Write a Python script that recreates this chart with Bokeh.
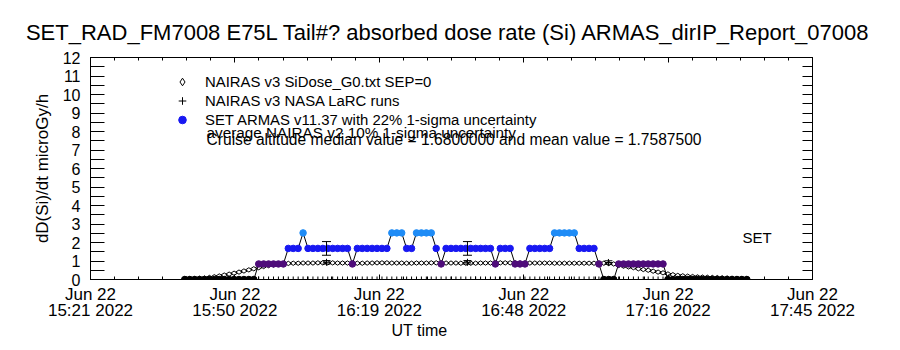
from bokeh.plotting import figure
from bokeh.models import (FixedTicker, LinearAxis, Range1d, Label, Legend,
                          LegendItem, ColumnDataSource, Title, CustomLabelingPolicy)
from bokeh.embed import file_html
from bokeh.resources import INLINE

# ---------------- data ----------------
tick_times = ["15:21:12", "15:50:00", "16:18:48", "16:47:36", "17:16:24", "17:45:12"]
tick_labels = ["Jun 22\n15:21 2022", "Jun 22\n15:50 2022", "Jun 22\n16:19 2022",
               "Jun 22\n16:48 2022", "Jun 22\n17:16 2022", "Jun 22\n17:45 2022"]
y_ticks = list(range(0, 13))

# SET ARMAS v11.37 dose rate (1 sample per ~59 s)
armas_start = "15:40:00"
armas_step_s = 59
armas_values = [
    0, 0, 0, 0, 0, 0, 0, 0, 0, 0, 0, 0, 0, 0, 0,
    0.84, 0.84, 0.84, 0.84, 0.84, 0.84,
    1.68, 1.68, 1.68,
    2.52,
    1.68, 1.68, 1.68, 1.68, 1.68, 1.68, 1.68, 1.68, 1.68,
    0.84,
    1.68, 1.68, 1.68, 1.68, 1.68, 1.68, 1.68,
    2.52, 2.52, 2.52,
    1.68, 1.68,
    2.52, 2.52, 2.52, 2.52,
    1.68,
    0.84,
    1.68, 1.68, 1.68, 1.68, 1.68, 1.68, 1.68, 1.68, 1.68, 1.68,
    0.84,
    1.68, 1.68, 1.68,
    0.84, 0.84, 0.84,
    1.68, 1.68, 1.68, 1.68, 1.68,
    2.52, 2.52, 2.52, 2.52, 2.52,
    1.68, 1.68, 1.68, 1.68,
    0.84,
    0, 0, 0,
    0.84, 0.84, 0.84, 0.84, 0.84, 0.84, 0.84, 0.84, 0.84, 0.84,
    0, 0, 0, 0, 0, 0, 0, 0, 0, 0, 0, 0, 0, 0, 0, 0, 0,
]

# NAIRAS v3 SiDose_G0 (same time stamps)
nairas_values = [
    0.02, 0.03, 0.04, 0.06, 0.08, 0.11, 0.15, 0.19, 0.24, 0.29, 0.34, 0.40, 0.46,
    0.52, 0.58, 0.64, 0.70, 0.75, 0.79, 0.83, 0.86,
    0.87, 0.88, 0.88, 0.89, 0.89, 0.89, 0.90, 0.90, 0.90, 0.90, 0.89, 0.89, 0.89,
    0.88, 0.88, 0.88, 0.89, 0.89, 0.90, 0.90, 0.90, 0.89, 0.89, 0.89, 0.88, 0.88,
    0.89, 0.89, 0.89, 0.90, 0.90, 0.90, 0.89, 0.89, 0.89, 0.88, 0.88, 0.88, 0.88,
    0.89, 0.89, 0.89, 0.89, 0.90, 0.90, 0.90, 0.90, 0.89, 0.89, 0.89, 0.89, 0.89,
    0.89, 0.89, 0.88, 0.88, 0.88, 0.88, 0.88, 0.88, 0.88, 0.88, 0.88, 0.88,
    0.88, 0.86, 0.84, 0.76, 0.72, 0.68, 0.64, 0.58, 0.54, 0.50, 0.45, 0.40, 0.36,
    0.30, 0.26, 0.22, 0.20, 0.18, 0.16, 0.14, 0.13, 0.12, 0.11, 0.10, 0.09, 0.08,
    0.07, 0.06, 0.05, 0.04,
]

# NAIRAS v3 NASA LaRC runs
larc_times = ["16:08:16", "16:36:23", "17:04:30"]
larc_values = [0.93, 0.93, 0.92]
larc_uncert = 0.10          # average NAIRAS v2 1-sigma
armas_at_larc = [1.68, 1.68, 0.0]
armas_uncert = 0.22         # ARMAS 1-sigma

# ---------------- helpers ----------------
def secs(hms):
    h, m, s = (int(v) for v in hms.split(":"))
    return h * 3600 + m * 60 + s

FONT = "Liberation Sans"
level_colors = {0.0: "#000000", 0.84: "#4e0c7a", 1.68: "#1818f2", 2.52: "#1f8cf6"}

xt = [secs(t) for t in tick_times]
x0, x1 = xt[0], xt[-1]
armas_x = [secs(armas_start) + i * armas_step_s for i in range(len(armas_values))]
armas_c = [level_colors[float(v)] for v in armas_values]
larc_x = [secs(t) for t in larc_times]

minor_x = []
for a, b in zip(xt[:-1], xt[1:]):
    minor_x += [a + (b - a) * j / 6 for j in range(1, 6)]
minor_y = [v + 0.5 for v in y_ticks[:-1]]

# ---------------- figure ----------------
p = figure(width=900, height=350, x_range=Range1d(x0, x1), y_range=Range1d(0, 12),
           output_backend="svg", toolbar_location=None,
           min_border_left=90, min_border_right=88, min_border_top=57,
           min_border_bottom=71, x_axis_type=None, y_axis_type=None)
p.grid.visible = False
p.outline_line_color = "black"
p.background_fill_color = "white"
p.border_fill_color = "white"

p.title.text = "SET_RAD_FM7008  E75L Tail#? absorbed dose rate (Si) ARMAS_dirIP_Report_07008"
p.title.text_font = FONT
p.title.text_font_size = "22px"
p.title.text_font_style = "normal"
p.title.text_color = "black"
p.title.align = "center"
p.title.standoff = 4

xtick = FixedTicker(ticks=xt, minor_ticks=minor_x)
ytick = FixedTicker(ticks=y_ticks, minor_ticks=minor_y)
hide_labels = CustomLabelingPolicy(code="""
    for (const i of indices) { indices.unset(i) }
    return indices
""")

def style_axis(ax, ticker, tin, tmin):
    ax.ticker = ticker
    ax.major_tick_in = tin
    ax.major_tick_out = 0
    ax.minor_tick_in = tmin
    ax.minor_tick_out = 0
    ax.axis_line_color = "black"
    ax.major_tick_line_color = "black"
    ax.minor_tick_line_color = "black"
    ax.major_label_text_font = FONT
    ax.major_label_text_color = "black"

xb = LinearAxis()
style_axis(xb, xtick, 5, 3)
xb.major_label_overrides = {t: lab for t, lab in zip(xt, tick_labels)}
xb.major_label_text_font_size = "17px"
xb.major_label_text_line_height = 0.85
xb.major_label_standoff = 5
p.add_layout(xb, "below")

xa = LinearAxis()
style_axis(xa, xtick, 5, 3)
xa.major_label_policy = hide_labels
xa.major_label_standoff = 0
p.add_layout(xa, "above")

yl = LinearAxis()
style_axis(yl, ytick, 14, 14)
yl.major_label_text_font_size = "16px"
yl.major_label_standoff = 10
yl.axis_label = "dD(Si)/dt microGy/h"
yl.axis_label_text_font = FONT
yl.axis_label_text_font_size = "17px"
yl.axis_label_text_font_style = "normal"
yl.axis_label_text_color = "black"
yl.axis_label_standoff = 8
p.add_layout(yl, "left")

yr = LinearAxis()
style_axis(yr, ytick, 10, 10)
yr.major_label_policy = hide_labels
yr.major_label_standoff = 0
p.add_layout(yr, "right")

p.add_layout(Title(text="UT time", align="left", offset=301, text_font=FONT,
                   text_font_size="16px", text_font_style="normal",
                   text_color="black", standoff=-6), "below")

# ---------------- glyphs ----------------
src = ColumnDataSource(dict(x=armas_x, armas=armas_values, nairas=nairas_values,
                            c=armas_c, zero=[0.0] * len(armas_x)))

r_diam = p.scatter("x", "nairas", source=src, marker="diamond", size=6.5,
                   angle=1.5707963268, fill_color=None, line_color="black",
                   line_width=1)
p.line("x", "armas", source=src, line_color="black", line_width=1)
r_armas = p.scatter("x", "armas", source=src, marker="circle", size=6.5,
                    fill_color="c", line_color="c")
p.scatter("x", "zero", source=src, marker="cross", size=6,
          line_color="black", line_width=1)

esrc = ColumnDataSource(dict(
    x=larc_x, v=larc_values,
    lo=[v * (1 - larc_uncert) for v in larc_values],
    hi=[v * (1 + larc_uncert) for v in larc_values],
    a=armas_at_larc,
    alo=[v * (1 - armas_uncert) for v in armas_at_larc],
    ahi=[v * (1 + armas_uncert) for v in armas_at_larc]))
p.segment("x", "alo", "x", "ahi", source=esrc, line_color="black", line_width=1)
p.scatter("x", "alo", source=esrc, marker="dash", size=9, line_color="black")
p.scatter("x", "ahi", source=esrc, marker="dash", size=9, line_color="black")
p.segment("x", "lo", "x", "hi", source=esrc, line_color="black", line_width=1)
p.scatter("x", "lo", source=esrc, marker="dash", size=8, line_color="black")
p.scatter("x", "hi", source=esrc, marker="dash", size=8, line_color="black")
r_plus = p.scatter("x", "v", source=esrc, marker="cross", size=7,
                   line_color="black", line_width=1)

# ---------------- legend / annotations ----------------
blue_idx = armas_values.index(1.68)
legend = Legend(items=[
    LegendItem(label="NAIRAS v3 SiDose_G0.txt SEP=0", renderers=[r_diam]),
    LegendItem(label="NAIRAS v3 NASA LaRC runs", renderers=[r_plus]),
    LegendItem(label="SET ARMAS v11.37 with 22% 1-sigma uncertainty",
               renderers=[r_armas], index=blue_idx),
], location=(82, 150), orientation="vertical")
legend.background_fill_alpha = 0
legend.border_line_alpha = 0
legend.padding = 0
legend.margin = 0
legend.spacing = 0
legend.glyph_width = 20
legend.glyph_height = 19
legend.label_height = 19
legend.label_standoff = 13
legend.label_text_font = FONT
legend.label_text_font_size = "14.9px"
legend.label_text_color = "black"
legend.label_text_baseline = "middle"
p.add_layout(legend)

px_per_s = 722 / (x1 - x0)
def sx(px):
    return x0 + (px - 90) / px_per_s
def sy(py):
    return (279 - py) / 18.5

for txt, py, fs in [("average NAIRAS v2 10% 1-sigma uncertainty", 132, "15.3px"),
                    ("Cruise altitude median value = 1.6800000 and mean value = 1.7587500", 139, "15.6px")]:
    p.add_layout(Label(x=sx(206), y=sy(py), text=txt, text_font=FONT,
                       text_font_size=fs, text_baseline="middle",
                       text_color="black"))

p.add_layout(Label(x=sx(742), y=sy(237), text="SET", text_font=FONT,
                   text_font_size="15px", text_baseline="middle", text_color="black"))

open("out.html", "w").write(file_html(p, INLINE))
